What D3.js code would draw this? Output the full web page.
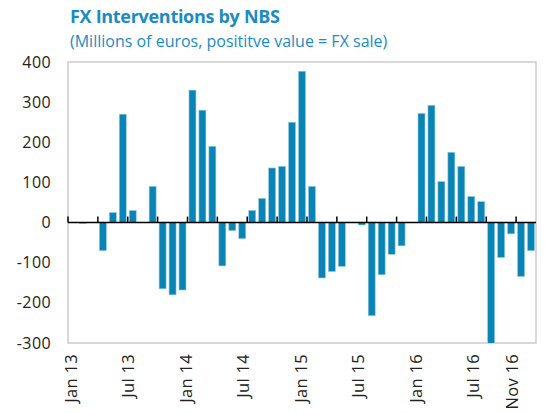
<!DOCTYPE html>
<html>
<head>
<meta charset="utf-8">
<script src="https://cdn.jsdelivr.net/npm/d3@7"></script>
<style>
  body { margin: 0; background: #fff; }
  text { font-family: "Open Sans", sans-serif; }
</style>
</head>
<body>
<div id="container"></div>
<script>
/* DATA */
const months = [
  "Jan 13","Feb 13","Mar 13","Apr 13","May 13","Jun 13","Jul 13","Aug 13","Sep 13","Oct 13","Nov 13","Dec 13",
  "Jan 14","Feb 14","Mar 14","Apr 14","May 14","Jun 14","Jul 14","Aug 14","Sep 14","Oct 14","Nov 14","Dec 14",
  "Jan 15","Feb 15","Mar 15","Apr 15","May 15","Jun 15","Jul 15","Aug 15","Sep 15","Oct 15","Nov 15","Dec 15",
  "Jan 16","Feb 16","Mar 16","Apr 16","May 16","Jun 16","Jul 16","Aug 16","Sep 16","Oct 16","Nov 16"
];
const interventions = [
  0, -2, 0, -70, 25, 270, 30, 0, 90, -165, -180, -168,
  330, 280, 190, -108, -20, -40, 30, 60, 136, 140, 250, 377,
  90, -138, -122, -109, 0, -6, -232, -130, -79, -58, 0, 272,
  292, 102, 175, 140, 65, 52, -305, -87, -28, -134, -70
];
const yTicks = [-300, -200, -100, 0, 100, 200, 300, 400];
const xLabels = ["Jan 13","Jul 13","Jan 14","Jul 14","Jan 15","Jul 15","Jan 16","Jul 16","Nov 16"];

/* LAYOUT */
const W = 545, H = 413;
const margin = { top: 62, right: 9, bottom: 70, left: 68 };
const width = W - margin.left - margin.right;
const height = H - margin.top - margin.bottom;
const blue = "#0a84b4";

const svg = d3.select("#container")
  .append("svg")
  .attr("width", W)
  .attr("height", H);

const chart = svg.append("g")
  .attr("transform", `translate(${margin.left}, ${margin.top})`);

// Scales
const xScale = d3.scaleBand()
  .domain(months)
  .range([0, width])
  .paddingInner(0.3)
  .paddingOuter(0.15);

const yScale = d3.scaleLinear()
  .domain([-300, 400])
  .range([height, 0]);

// label positions drift a bit in the original, so they get their own scale
const labelScale = d3.scaleLinear()
  .domain([0, months.length - 1])
  .range([3, width - 24]);

svg.append("defs").append("clipPath")
  .attr("id", "plot-clip")
  .append("rect")
  .attr("width", width)
  .attr("height", height);

// Plot frame
chart.append("rect")
  .attr("width", width)
  .attr("height", height)
  .attr("fill", "none")
  .attr("stroke", "#cccccc")
  .attr("stroke-width", 1.5);

// Bars
chart.append("g")
  .attr("clip-path", "url(#plot-clip)")
  .selectAll(".bar")
  .data(months.map((m, i) => ({ month: m, value: interventions[i] })))
  .enter()
  .append("rect")
  .attr("class", "bar")
  .attr("x", d => xScale(d.month))
  .attr("y", d => yScale(Math.max(0, d.value)))
  .attr("width", xScale.bandwidth())
  .attr("height", d => Math.abs(yScale(d.value) - yScale(0)))
  .attr("fill", blue)
  .attr("stroke", "#8ecbe4")
  .attr("stroke-width", 0.6);

// Zero line with quarterly ticks
const step = xScale.step();
const x0 = d => xScale(d) - xScale.paddingInner() * step / 2;
chart.append("line")
  .attr("x1", 0)
  .attr("x2", width)
  .attr("y1", yScale(0))
  .attr("y2", yScale(0))
  .attr("stroke", "#000")
  .attr("stroke-width", 1.5);

chart.selectAll(".qtick")
  .data(months.filter((m, i) => i % 3 === 0))
  .enter()
  .append("line")
  .attr("class", "qtick")
  .attr("x1", d => Math.max(0, x0(d)))
  .attr("x2", d => Math.max(0, x0(d)))
  .attr("y1", yScale(0))
  .attr("y2", yScale(0) - 6)
  .attr("stroke", "#000")
  .attr("stroke-width", 1.5);

// Y-axis labels
chart.selectAll(".ylab")
  .data(yTicks)
  .enter()
  .append("text")
  .attr("class", "ylab")
  .attr("x", -17)
  .attr("y", d => yScale(d))
  .attr("dy", "0.35em")
  .attr("text-anchor", "end")
  .attr("font-size", 16)
  .attr("letter-spacing", 0.4)
  .attr("fill", "#222")
  .text(d => d);

// X-axis labels (rotated)
chart.selectAll(".xlab")
  .data(xLabels)
  .enter()
  .append("text")
  .attr("class", "xlab")
  .attr("transform", d => `translate(${labelScale(months.indexOf(d))}, ${height + 11}) rotate(-90)`)
  .attr("dy", "0.35em")
  .attr("text-anchor", "end")
  .attr("font-size", 16.5)
  .attr("letter-spacing", 0.3)
  .attr("fill", "#222")
  .text(d => d);

// Title
svg.append("text")
  .attr("x", 70)
  .attr("y", 23)
  .attr("font-size", 18)
  .attr("font-weight", "bold")
  .attr("fill", "#1a8cc4")
  .attr("letter-spacing", -0.3)
  .text("FX Interventions by NBS");

svg.append("text")
  .attr("x", 70)
  .attr("y", 47)
  .attr("font-size", 16)
  .attr("fill", "#1a8cc4")
  .text("(Millions of euros, posititve value = FX sale)");
</script>
</body>
</html>
